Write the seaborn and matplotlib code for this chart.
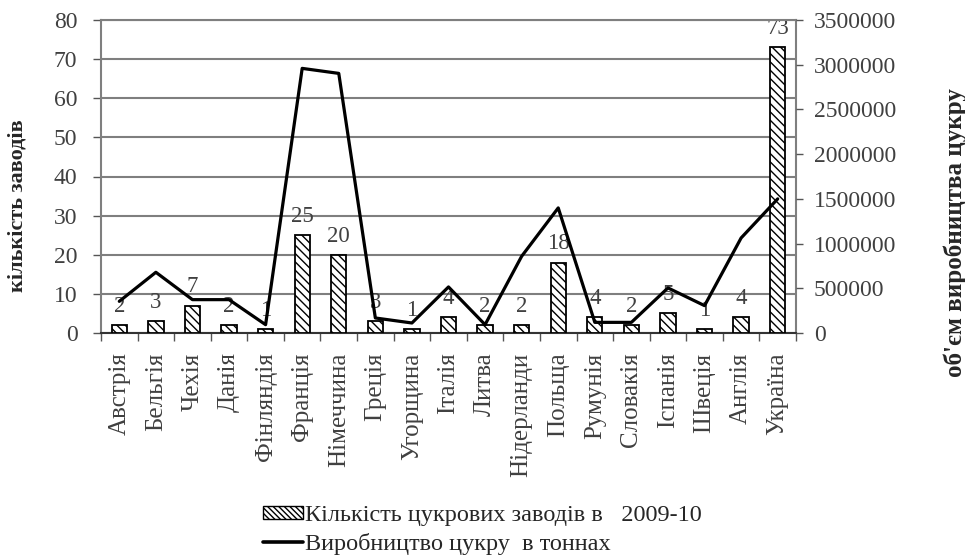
import numpy as np
import pandas as pd
import matplotlib
matplotlib.use("Agg")
import matplotlib.pyplot as plt
from matplotlib.patches import Patch
from matplotlib.lines import Line2D
import seaborn as sns

countries = ["Австрія", "Бельгія", "Чехія", "Данія", "Фінляндія", "Франція",
             "Німеччина", "Греція", "Угорщина", "Італія", "Литва", "Нідерланди",
             "Польща", "Румунія", "Словакія", "Іспанія", "Швеція", "Англія", "Україна"]
factories = [2, 3, 7, 2, 1, 25, 20, 3, 1, 4, 2, 2, 18, 4, 2, 5, 1, 4, 73]
production = [354000, 679000, 373000, 373000, 93000, 2959000, 2903000, 168000, 112000,
              515000, 93000, 858000, 1399000, 119000, 119000, 504000, 306000, 1063000, 1500000]

bar_label = "Кількість цукрових заводів в   2009-10"
line_label = "Виробництво цукру  в тоннах"
left_title = "кількість заводів"
right_title = "об'єм виробництва цукру"

df = pd.DataFrame({"country": countries, "factories": factories,
                   "production": production, "pos": np.arange(len(countries))})

sns.set_theme(style="white")
plt.rcParams["font.family"] = ["Liberation Serif", "DejaVu Serif"]
plt.rcParams["hatch.linewidth"] = 1.0

grey = "#404040"
fig = plt.figure(figsize=(9.65, 5.6), dpi=100)
ax = fig.add_axes([101 / 965, 1 - 333 / 560, 695 / 965, 313 / 560])

sns.barplot(data=df, x="country", y="factories", ax=ax, color="white",
            edgecolor="black", linewidth=1.3, width=0.42, saturation=1)
for p in ax.patches:
    p.set_hatch("\\\\\\\\")
    p.set_zorder(3)

ax.set_ylim(0, 80)
ax.set_xlim(-0.5, len(countries) - 0.5)
ax.set_yticks(np.arange(0, 81, 10))
ax.yaxis.grid(True, color="#7f7f7f", linewidth=1.5, zorder=0)
ax.set_axisbelow(True)
ax.set_xlabel("")
ax.set_ylabel("")

ax.set_xticks(np.arange(len(countries)))
ax.set_xticklabels(countries, rotation=90, fontsize=18, color=grey)
ax.set_xticks(np.arange(-0.5, len(countries), 1), minor=True)
ax.tick_params(axis="x", which="major", length=0, pad=14)
ax.tick_params(axis="x", which="minor", length=6, width=1, color="#555555", bottom=True)
ax.tick_params(axis="y", length=6, width=1, color="#555555", labelsize=17,
               labelcolor=grey, left=True, pad=11)

for s in ["left", "right", "top"]:
    ax.spines[s].set_color("#7f7f7f")
    ax.spines[s].set_linewidth(1.5)
ax.spines["bottom"].set_color("#333333")
ax.spines["bottom"].set_linewidth(1.5)

for x, v in zip(df["pos"], factories):
    ax.annotate(str(v), (x, v), xytext=(0, 9.5), textcoords="offset points",
                ha="center", va="baseline", fontsize=16.5, color=grey, zorder=2)

ax2 = ax.twinx()
sns.lineplot(data=df, x="pos", y="production", ax=ax2, color="black",
             linewidth=2.3, zorder=5)
ax2.set_ylim(0, 3500000)
ax2.set_yticks(np.arange(0, 3500001, 500000))
ax2.set_yticklabels([f"{int(t)}" for t in np.arange(0, 3500001, 500000)])
ax2.set_xlim(-0.5, len(countries) - 0.5)
ax2.set_xlabel("")
ax2.set_ylabel("")
ax2.tick_params(axis="y", length=5, width=1, color="#555555", labelsize=17,
                labelcolor=grey, right=True, pad=8)
for s in ax2.spines.values():
    s.set_visible(False)

fig.text(18 / 965, 1 - 206 / 560, left_title, rotation=90, ha="center", va="center",
         fontsize=16, fontweight="bold")
fig.text(955 / 965, 1 - 233 / 560, right_title, rotation=90, ha="center", va="center",
         fontsize=18, fontweight="bold")

handles = [Patch(facecolor="white", edgecolor="black", hatch="\\\\\\\\\\\\", linewidth=1),
           Line2D([0], [0], color="black", linewidth=2.6)]
fig.legend(handles, [bar_label, line_label], loc="center left",
           bbox_to_anchor=(263 / 965, 1 - 530 / 560), frameon=False, fontsize=17.5,
           handlelength=1.65, handleheight=0.4, handletextpad=0.08, labelspacing=0.28,
           borderaxespad=0, borderpad=0)

fig.savefig("out.png", dpi=100, facecolor="white")
